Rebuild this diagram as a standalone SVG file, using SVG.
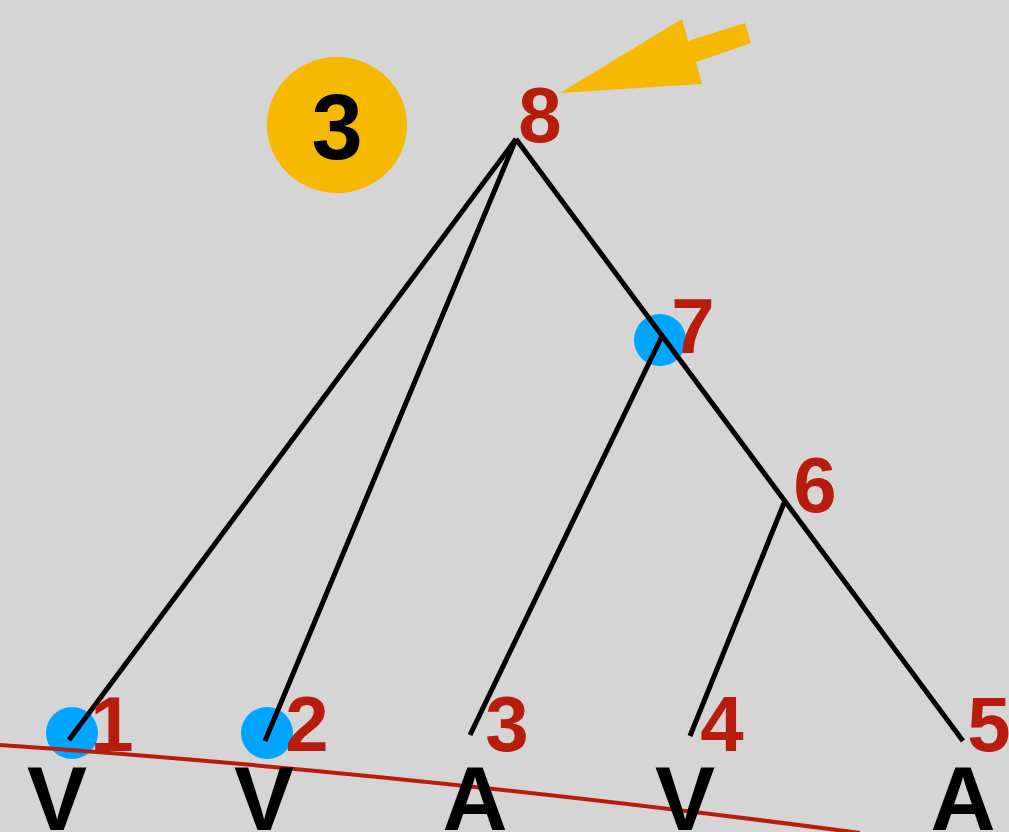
<svg xmlns="http://www.w3.org/2000/svg" width="1009" height="832" viewBox="0 0 1009 832">
<style>
.edge{stroke:#000;stroke-width:5;fill:none;stroke-linecap:butt}
.num{font-family:"Liberation Sans",Arial,sans-serif;font-weight:bold;font-size:78px;fill:#b71c0c;text-anchor:middle}
.leaf{font-family:"Liberation Sans",Arial,sans-serif;font-weight:bold;font-size:90px;fill:#000;text-anchor:middle}
.dot{fill:#00a5ff}
</style>
<rect width="1009" height="832" fill="#d5d5d5"/>
<g id="badge">
<ellipse cx="337" cy="125" rx="70" ry="68" fill="#f6b800"/>
<text x="337" y="159" font-family="Liberation Sans, Arial, sans-serif" font-weight="bold" font-size="92" text-anchor="middle" fill="#000">3</text>
</g>
<g id="pointer">
<polygon points="560,93 682,19 688,41 745,23 751,43 696,62 702,84" fill="#f6b800"/>
</g>
<g id="dots">
<circle class="dot" cx="72" cy="733" r="26"/>
<circle class="dot" cx="267" cy="733" r="26"/>
<circle class="dot" cx="660" cy="340" r="26"/>
</g>
<g id="connectors">
<line class="edge" x1="516" y1="139" x2="69" y2="740"/>
<line class="edge" x1="516" y1="139" x2="265" y2="741"/>
<line class="edge" x1="516" y1="139" x2="963" y2="741"/>
<line class="edge" x1="662" y1="336" x2="470" y2="735"/>
<line class="edge" x1="784" y1="503" x2="690" y2="736"/>
<path d="M0,745 Q397,772 860,833" stroke="#b71c0c" stroke-width="4" fill="none"/>
</g>
<g id="node8"><text class="num" x="540" y="142">8</text></g>
<g id="node7"><text class="num" x="693" y="353">7</text></g>
<g id="node6"><text class="num" x="815" y="512">6</text></g>
<g id="node1"><text class="num" x="112" y="751">1</text><text class="leaf" x="57" y="830">V</text></g>
<g id="node2"><text class="num" x="307" y="751">2</text><text class="leaf" x="264" y="830">V</text></g>
<g id="node3"><text class="num" x="507" y="751">3</text><text class="leaf" x="475" y="830">A</text></g>
<g id="node4"><text class="num" x="722" y="751">4</text><text class="leaf" x="685" y="830">V</text></g>
<g id="node5"><text class="num" x="989" y="751">5</text><text class="leaf" x="963" y="830">A</text></g>
</svg>
